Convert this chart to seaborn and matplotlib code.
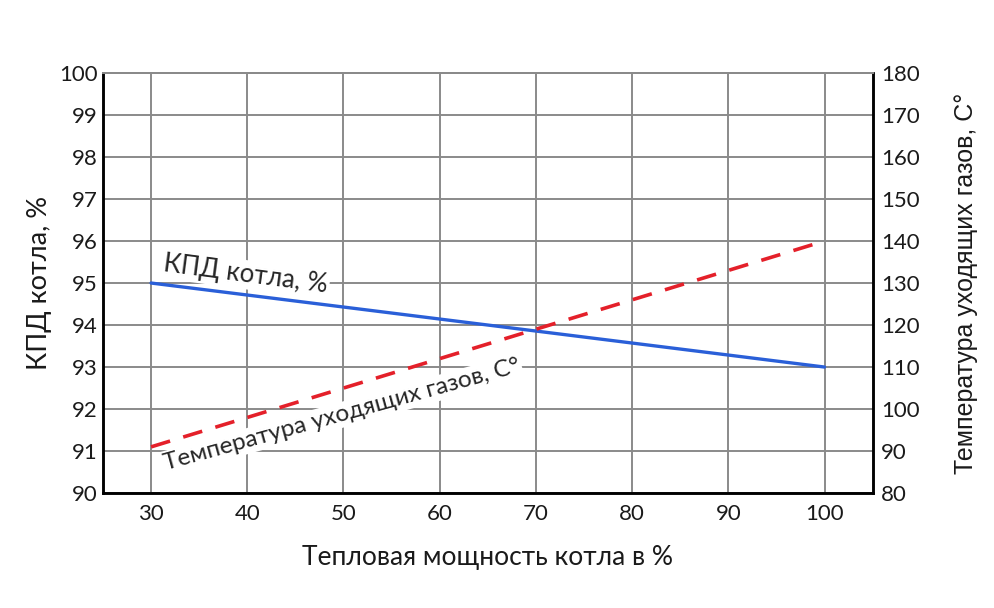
import numpy as np
import pandas as pd
import matplotlib
matplotlib.use("Agg")
import matplotlib.pyplot as plt
import seaborn as sns

# data
load = [30, 100]          # тепловая мощность котла, %
efficiency = [95, 93]     # КПД котла, %
flue_temp = [91, 140]     # температура уходящих газов, °C

x_ticks = list(range(30, 101, 10))
left_ticks = list(range(90, 101))
right_ticks = list(range(80, 181, 10))

sns.set_style("white")
plt.rcParams["font.family"] = ["Lato", "DejaVu Sans"]

fig = plt.figure(figsize=(9.95, 6.08), dpi=100)
ax = fig.add_axes([0.1035, 0.189, 0.7735, 0.691])
ax2 = ax.twinx()

df = pd.DataFrame({"load": load, "eff": efficiency, "temp": flue_temp})

sns.lineplot(data=df, x="load", y="eff", ax=ax, color="#2a5fd8", linewidth=2.4, zorder=3)
sns.lineplot(data=df, x="load", y="temp", ax=ax2, color="#e4202a", linewidth=2.6,
             dashes=False, zorder=3)
ax2.lines[0].set_dashes([5.5, 3.8])

ax.set_xlim(25, 105)
ax.set_ylim(90, 100)
ax2.set_ylim(80, 180)
ax.set_xticks(x_ticks)
ax.set_yticks(left_ticks)
ax2.set_yticks(right_ticks)

ax.grid(True, color="#8a8a8a", linewidth=1.4)
ax.set_axisbelow(True)
ax2.grid(False)

for side in ["left", "bottom", "right"]:
    ax.spines[side].set_color("black")
    ax.spines[side].set_linewidth(1.8)
    ax2.spines[side].set_color("black")
    ax2.spines[side].set_linewidth(1.8)
ax.spines["top"].set_color("#8a8a8a")
ax2.spines["top"].set_color("#8a8a8a")
ax.spines["top"].set_linewidth(1.4)
ax2.spines["top"].set_linewidth(1.4)

ax.tick_params(axis="both", length=0, labelsize=16, colors="#1a1a1a")
ax.tick_params(axis="x", pad=8)
ax.tick_params(axis="y", pad=4)
ax2.tick_params(axis="y", length=0, labelsize=16, colors="#1a1a1a", pad=6)

ax.set_xlabel("Тепловая мощность котла в %", fontsize=19, labelpad=15, color="#1a1a1a")
ax.set_ylabel("КПД котла, %", fontsize=19.5, labelpad=5, color="#1a1a1a")
ax2.set_ylabel("Температура уходящих газов, С°", fontsize=18, labelpad=25,
               color="#1a1a1a", family=["Liberation Sans", "DejaVu Sans"])

box = dict(facecolor="white", edgecolor="none", pad=1.5)
ax.text(39.8, 95.2, "КПД котла, %", fontsize=18.5, rotation=-7.5,
        ha="center", va="center", rotation_mode="anchor", bbox=box, zorder=4)
ax.text(49.8, 91.86, "Температура уходящих газов, С°", fontsize=17.5, rotation=15.5,
        ha="center", va="center", rotation_mode="anchor", bbox=box, zorder=2)

fig.savefig("out.png", dpi=100)
